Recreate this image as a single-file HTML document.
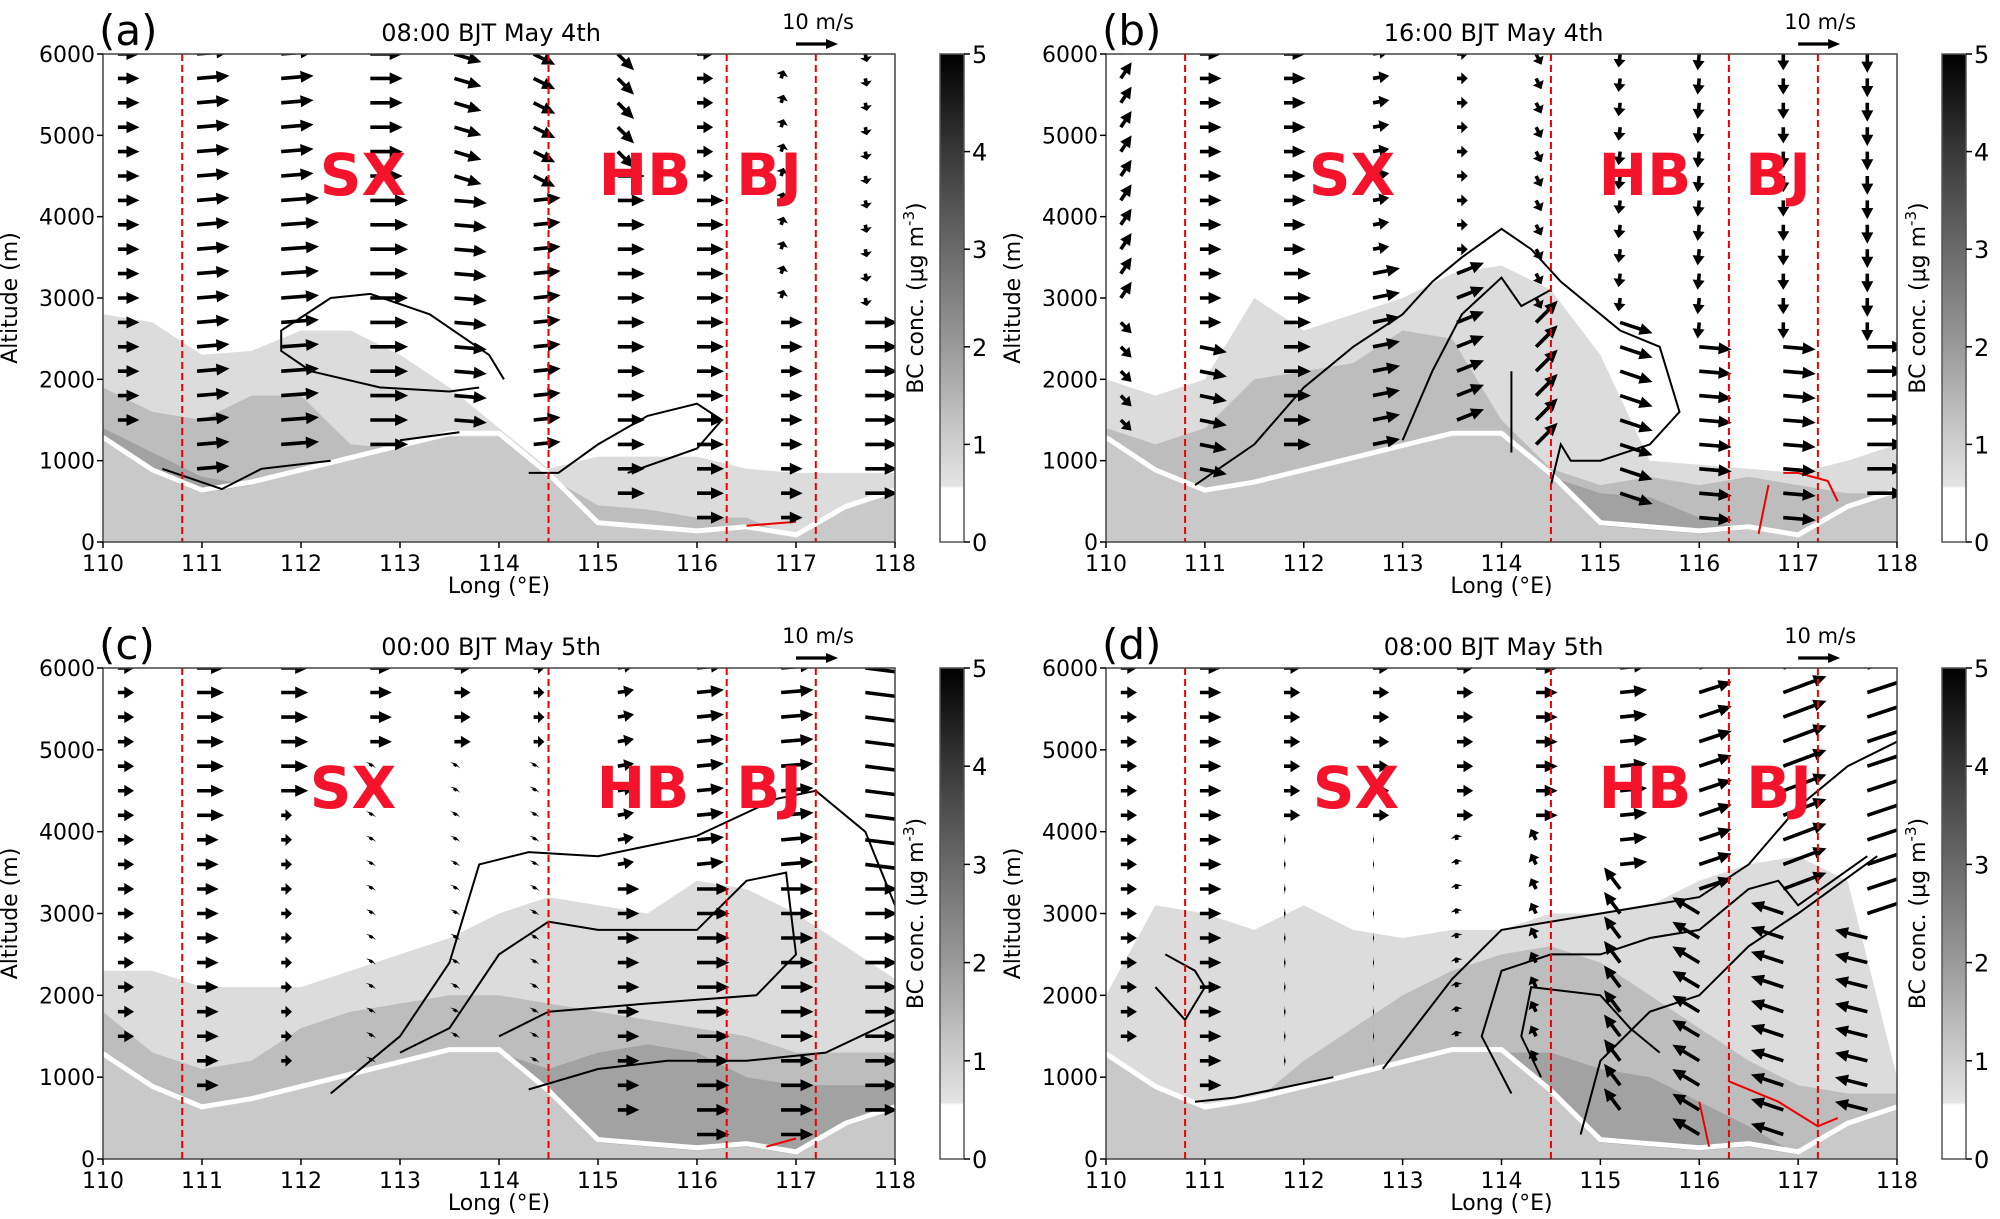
<!DOCTYPE html>
<html><head><meta charset="utf-8"><style>
html,body{margin:0;padding:0;background:#fff;}
svg{display:block;font-family:"DejaVu Sans","Liberation Sans",sans-serif;}
</style></head><body>
<svg id="fig" width="2000" height="1219" viewBox="0 0 2000 1219" xmlns="http://www.w3.org/2000/svg">
<defs>
<linearGradient id="cbg" x1="0" y1="1" x2="0" y2="0">
<stop offset="0" stop-color="#ffffff"/><stop offset="0.11" stop-color="#ffffff"/>
<stop offset="0.115" stop-color="#e4e4e4"/><stop offset="0.2" stop-color="#cfcfcf"/>
<stop offset="0.4" stop-color="#9a9a9a"/><stop offset="0.6" stop-color="#6a6a6a"/>
<stop offset="0.8" stop-color="#383838"/><stop offset="1" stop-color="#000"/>
</linearGradient>
</defs>
</svg>
<script>
const lonGrid=[110,110.5,111,111.5,112,112.5,113,113.5,114,114.5,115,115.5,116,116.5,117,117.5,118];
const terrain=[1250,850,600,700,850,1000,1150,1300,1300,800,200,150,100,150,50,400,600];
const lonCols=[110.15,110.95,111.8,112.7,113.55,114.35,115.2,116.0,116.85,117.7];
const rowAlts=[6000,5700,5400,5100,4800,4500,4200,3900,3600,3300,3000,2700,2400,2100,1800,1500,1200,900,600,300];
const dashLons=[110.8,114.5,116.3,117.2];
const xTicks=[110,111,112,113,114,115,116,117,118];
const yTicks=[0,1000,2000,3000,4000,5000,6000];
const cbTicks=[0,1,2,3,4,5];
const titles=["08:00 BJT May  4th","16:00 BJT May  4th","00:00 BJT May  5th","08:00 BJT May  5th"];
const letters=["(a)","(b)","(c)","(d)"];
const bcA1=[2800,2700,2300,2350,2600,2600,2300,1900,1400,900,1050,1050,1050,900,850,850,850];
const bcA2=[1900,1600,1500,1800,1800,1200,1150,1300,1300,800,450,400,300,300,0,0,0];
const bcA3=[1400,1100,800,0,0,0,0,0,0,0,0,0,0,0,0,0,0];
const bcB1=[2000,1800,2000,3000,2600,2800,3000,3300,3400,3100,2300,1000,950,900,850,1000,1200];
const bcB2=[1400,1200,1400,2000,2100,2200,2600,2500,1500,900,700,800,700,800,700,600,500];
const bcB3=[0,0,0,0,0,0,0,0,0,0,600,550,300,0,0,0,0];
const bcC1=[2300,2300,2100,2100,2100,2300,2500,2700,3000,3200,3100,3000,3400,3300,3000,2600,2200];
const bcC2=[1800,1300,1100,1200,1600,1800,1900,2000,2000,1900,1800,1700,1600,1500,1300,1300,1300];
const bcC3=[0,0,0,0,0,0,0,0,0,1100,1300,1400,1300,1000,900,900,900];
const bcD1=[2000,3100,3000,2800,3100,2800,2700,2800,2800,3000,3000,3100,3400,3600,3700,3400,1000];
const bcD2=[0,0,0,0,1200,1600,2000,2300,2500,2600,2400,2000,1600,1200,900,800,800];
const bcD3=[0,0,0,0,0,0,0,0,0,1300,1100,1000,700,400,0,0,0];
const uHiA=[4,6,6,6,5,4,3,3,0.5,0.3], vHiA=[0,0.5,0.5,0,-1.5,-2,-3,0,1.5,-1.5];
const uLoA=[4,6,7,7,6,5,5,5,4,6], vLoA=[0,0.5,0.5,0,-0.5,0.5,0,0,0,0];
const splitA=[4500,4500,4500,4500,4500,4500,4700,4500,3000,3000];
const uHiB=[2,4,4,3,2,1,-0.3,-0.3,0,0], vHiB=[3,0,0,0.5,0,-2,-2.5,-3,-3,-3.5];
const uLoB=[2,5,5,5,5,4,6,6,6,7], vLoB=[-2,-1,0,1,2,4,-2,-0.5,-0.5,0];
const splitB=[3000,2500,3500,3500,3500,3000,2800,2500,2500,2500];
const uHiC=[3,5,5,4,3,2,3,5,6,8], vHiC=[0,0,0,0,0,0,0.5,0.5,0.5,-1];
const uLoC=[3,4,2,0.3,0.3,0.3,4,6,6,6], vLoC=[0,0,0,0.5,0.5,0.5,0,0,0,0];
const splitC=[4000,4000,4500,5000,5000,5000,3500,3500,3500,3500];
const uHiD=[3,4,3,3,3,4,5,6,8,9], vHiD=[0,0,0,0,0,0,0.5,2,3,3];
const uLoD=[3,4,0.3,0.2,-0.2,-1,-3,-5,-6,-6], vLoD=[0,0,0,0,1,2,4,3,2,1.5];
const splitD=[3700,3700,4200,4200,4200,4200,3600,3300,3100,2900];
const cA=[[[114.05,2000],[113.9,2300],[113.3,2800],[112.7,3050],[112.3,3000],[111.8,2600],[111.8,2350],[112.1,2100],[112.8,1900],[113.5,1850],[113.8,1900]],
 [[114.3,850],[114.6,850],[115,1200],[115.5,1550],[116,1700],[116.25,1500],[116,1150],[115.3,850]],
 [[110.6,900],[111.2,650],[111.6,900],[112.3,1000]],[[113,1250],[113.6,1350]]];
const cARed=[[[116.5,200],[117,250]]];
const cB=[[[110.9,700],[111.5,1200],[112,1900],[112.5,2400],[113,2800],[113.3,3200],[113.6,3500],[114,3850],[114.3,3600],[114.6,3200],[115.2,2600],[115.6,2400],[115.8,1600],[115.5,1200],[115,1000],[114.7,1000],[114.6,1200],[114.5,700]],
 [[113,1250],[113.3,2100],[113.6,2800],[114,3250],[114.2,2900],[114.5,3100]],[[114.1,1100],[114.1,2100]]];
const cBRed=[[[116.6,100],[116.7,700]],[[116.85,850],[117.0,850],[117.3,750],[117.4,500]]];
const cC=[[[112.3,800],[113,1500],[113.5,2400],[113.8,3600],[114.3,3750],[115,3700],[116,3950],[116.8,4400],[117.2,4500],[117.7,4000],[118,3100]],
 [[113,1300],[113.5,1600],[114,2500],[114.5,2900],[115,2800],[116,2800],[116.5,3400],[116.9,3500],[117,2500],[116.6,2000],[115.5,1900],[114.5,1800],[114,1500]],
 [[114.3,850],[115,1100],[115.7,1200],[116.5,1200],[117.3,1300],[118,1700]]];
const cCRed=[[[116.7,150],[117,250]]];
const cD=[[[112.8,1100],[113.5,2200],[114,2800],[115,3000],[116,3200],[116.5,3600],[117,4300],[117.5,4800],[118,5100]],
 [[114.1,800],[113.8,1500],[114,2300],[114.5,2500],[115,2500],[115.5,2700],[116,2800],[116.5,3300],[116.8,3400],[117,3100],[117.7,3700]],
 [[114.4,1000],[114.2,1500],[114.3,2100],[115,2000],[115.3,1600],[115.6,1300]],
 [[114.8,300],[115,1200],[115.5,1800],[116,2000],[116.5,2600],[117,3000],[117.8,3700]],
 [[110.5,2100],[110.8,1700],[111.0,2100],[110.9,2300],[110.6,2500]],[[110.9,700],[111.3,750],[112.3,1000]]];
const cDRed=[[[116.3,950],[116.8,700],[117.2,400],[117.4,500]],[[116,700],[116.1,150]]];

const panels=[
 {L:103,R:895,T:54,B:542,cb:940,bc:[bcA1,bcA2,bcA3],u:[uHiA,vHiA,uLoA,vLoA,splitA],c:cA,cr:cARed,lab:[[363,157],[645,157],[769,157]]},
 {L:1106,R:1897,T:54,B:542,cb:1942,bc:[bcB1,bcB2,bcB3],u:[uHiB,vHiB,uLoB,vLoB,splitB],c:cB,cr:cBRed,lab:[[1352,157],[1645,157],[1778,157]]},
 {L:103,R:895,T:668,B:1159,cb:940,bc:[bcC1,bcC2,bcC3],u:[uHiC,vHiC,uLoC,vLoC,splitC],c:cC,cr:cCRed,lab:[[353,770],[643,770],[769,770]]},
 {L:1106,R:1897,T:668,B:1159,cb:1942,bc:[bcD1,bcD2,bcD3],u:[uHiD,vHiD,uLoD,vLoD,splitD],c:cD,cr:cDRed,lab:[[1356,770],[1645,770],[1779,770]]}
];
const NS="http://www.w3.org/2000/svg";
const svg=document.getElementById('fig');
function el(t,a,p){const e=document.createElementNS(NS,t);for(const k in a)e.setAttribute(k,a[k]);(p||svg).appendChild(e);return e;}
const layerCols=['#dcdcdc','#bdbdbd','#a2a2a2'];
panels.forEach((P,pi)=>{
 const X=l=>P.L+(l-110)/8*(P.R-P.L), Y=a=>P.B-a/6000*(P.B-P.T);
 const g=el('g',{});
 
 
 const clipId='clip'+pi;
 const cp=el('clipPath',{id:clipId},g); el('rect',{x:P.L,y:P.T,width:P.R-P.L,height:P.B-P.T},cp);
 const pg=el('g',{'clip-path':'url(#'+clipId+')'},g);
 P.bc.forEach((arr,li)=>{
  let d='';
  lonGrid.forEach((l,i)=>{const a=Math.max(arr[i],terrain[i]);d+=(i?'L':'M')+X(l).toFixed(1)+','+Y(a).toFixed(1);});
  for(let i=lonGrid.length-1;i>=0;i--)d+='L'+X(lonGrid[i]).toFixed(1)+','+Y(terrain[i]).toFixed(1);
  const p=el('path',{d:d+'Z',fill:layerCols[li]},pg);
  
  
 });
 let td='M'+X(110)+','+Y(0);
 lonGrid.forEach((l,i)=>{td+='L'+X(l).toFixed(1)+','+Y(terrain[i]).toFixed(1);});
 td+='L'+X(118)+','+Y(0)+'Z';
 const tp=el('path',{d:td,fill:'#c9c9c9'},pg);
 
 
 let tl='';lonGrid.forEach((l,i)=>{tl+=(i?'L':'M')+X(l).toFixed(1)+','+(Y(terrain[i])-3).toFixed(1);});
 const tlp=el('path',{d:tl,fill:'none',stroke:'#fff','stroke-width':5},pg);
 
 
 [[P.c,'#000'],[P.cr,'#e00']].forEach(([set,col])=>{set.forEach(line=>{
  let d='';line.forEach((pt,i)=>{d+=(i?'L':'M')+X(pt[0]).toFixed(1)+','+Y(pt[1]).toFixed(1);});
  const cl=el('path',{d:d,fill:'none',stroke:col,'stroke-width':2},pg);
  
  
 });});
 const [uH,vH,uL,vL,sp]=P.u; const k=5.4;
 lonCols.forEach((lon,ci)=>{rowAlts.forEach(a=>{
  const ti=Math.min(16,Math.round((lon-110)*2)); if(a<terrain[ti]+200)return;
  const hi=a>=sp[ci]; const u=hi?uH[ci]:uL[ci], v=hi?vH[ci]:vL[ci];
  const len=Math.hypot(u,v)*k; if(len<1)return;
  const x0=X(lon), y0=Y(a), ang=Math.atan2(-v,u);
  const hl=Math.min(13,len*0.6), hw=6, sw=1.8;
  const c=Math.cos(ang), s=Math.sin(ang);
  const pts=[[0,-sw],[len-hl,-sw],[len-hl,-hw],[len,0],[len-hl,hw],[len-hl,sw],[0,sw]].map(p=>[(x0+p[0]*c-p[1]*s).toFixed(1),(y0+p[0]*s+p[1]*c).toFixed(1)].join(','));
  const ar=el('polygon',{points:pts.join(' '),fill:'#000'},pg);
  
  
 });});
 dashLons.forEach(l=>{const dl=el('line',{x1:X(l),x2:X(l),y1:P.T,y2:P.B,stroke:'#e00','stroke-width':2,'stroke-dasharray':'7,4'},pg);
  
  });
 ['SX','HB','BJ'].forEach((t,i)=>{const tx=el('text',{x:P.lab[i][0],y:P.lab[i][1]+38,'text-anchor':'middle','font-size':58,'font-weight':'bold',fill:'#f5132b'},g);tx.textContent=t;
  
  });
 const fr=el('rect',{x:P.L,y:P.T,width:P.R-P.L,height:P.B-P.T,fill:'none',stroke:'#444','stroke-width':1.5},g);
 
 
 xTicks.forEach(t=>{el('line',{x1:X(t),x2:X(t),y1:P.B,y2:P.B+6,stroke:'#000','stroke-width':1.5},g);
  const tx=el('text',{x:X(t),y:P.B+29,'text-anchor':'middle','font-size':22},g);tx.textContent=t;
  
  });
 yTicks.forEach(t=>{el('line',{x1:P.L-6,x2:P.L,y1:Y(t),y2:Y(t),stroke:'#000','stroke-width':1.5},g);
  const tx=el('text',{x:P.L-8,y:Y(t)+8,'text-anchor':'end','font-size':22},g);tx.textContent=t;
  
  });
 const xl=el('text',{x:(P.L+P.R)/2,y:P.B+51,'text-anchor':'middle','font-size':22},g);xl.textContent='Long (°E)';
 
 
 const yl=el('text',{x:0,y:0,'text-anchor':'middle','font-size':22,transform:`translate(${P.L-86},${(P.T+P.B)/2}) rotate(-90)`},g);yl.textContent='Altitude (m)';
 
 
 const tt=el('text',{x:P.L+(P.R-P.L)*0.49,y:P.T-13,'text-anchor':'middle','font-size':24},g);tt.textContent=titles[pi];
 
 
 const lt=el('text',{x:P.L-4,y:P.T-9,'font-size':42},g);lt.textContent=letters[pi];
 
 
 const rx=P.L+(P.R-P.L)*0.875, ry=P.T-10;
 const rt=el('text',{x:rx+22,y:P.T-25,'text-anchor':'middle','font-size':21},g);rt.textContent='10 m/s';
 
 
 const ra=el('polygon',{points:`${rx},${ry-1.6} ${rx+30},${ry-1.6} ${rx+30},${ry-5} ${rx+42},${ry} ${rx+30},${ry+5} ${rx+30},${ry+1.6} ${rx},${ry+1.6}`,fill:'#000'},g);
 
 
 const cbr=el('rect',{x:P.cb,y:P.T,width:24,height:P.B-P.T,fill:'url(#cbg)',stroke:'#555','stroke-width':1.5},g);
 
 
 cbTicks.forEach(t=>{const yy=P.B-t/5*(P.B-P.T);el('line',{x1:P.cb+24,x2:P.cb+30,y1:yy,y2:yy,stroke:'#000','stroke-width':1.5},g);
  const tx=el('text',{x:P.cb+32,y:yy+9,'font-size':24},g);tx.textContent=t;
  
  });
 const cl=el('text',{x:0,y:0,'text-anchor':'middle','font-size':22,transform:`translate(${P.cb-17},${(P.T+P.B)/2}) rotate(-90)`},g);
 cl.innerHTML='BC conc. (μg m<tspan dy="-9" font-size="15">-3</tspan><tspan dy="9">)</tspan>';
 
 
});
</script>
</body></html>
